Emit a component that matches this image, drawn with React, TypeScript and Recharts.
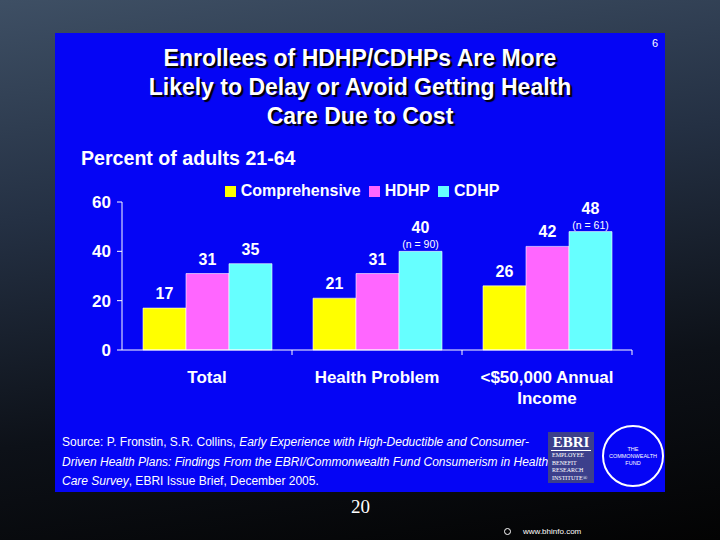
import { Bar, BarChart, LabelList, XAxis, YAxis } from 'recharts'

const categories = ['Total', 'Health Problem', '<$50,000 Annual\nIncome']
const comprehensive = [17, 21, 26]
const hdhp = [31, 31, 42]
const cdhp = [35, 40, 48]
const cdhpN = ['', '(n = 90)', '(n = 61)']
const yTicks = [0, 20, 40, 60]

const SERIES = [
  { key: 'comprehensive', name: 'Comprehensive', color: '#ffff00' },
  { key: 'hdhp', name: 'HDHP', color: '#ff66ff' },
  { key: 'cdhp', name: 'CDHP', color: '#66ffff' },
]

const data = categories.map((c, i) => ({
  category: c,
  comprehensive: comprehensive[i],
  hdhp: hdhp[i],
  cdhp: cdhp[i],
}))

const FONT = '"Liberation Sans", Arial, sans-serif'
const PANEL = '#0505f5'
// plot box: x 122..632, y 202..350
const PLOT_LEFT = 122
const PLOT_RIGHT = 632
const BAND = (PLOT_RIGHT - PLOT_LEFT) / categories.length

function CategoryTick(props: any) {
  const { x, y, payload, index } = props
  const lines = String(payload.value).split('\n')
  return (
    <g>
      {index > 0 && <line x1={x - BAND / 2} x2={x - BAND / 2} y1={y - 8} y2={y - 3} stroke="#fff" />}
      {index === categories.length - 1 && (
        <line x1={x + BAND / 2} x2={x + BAND / 2} y1={y - 8} y2={y - 3} stroke="#fff" />
      )}
      {lines.map((l, i) => (
        <text key={i} x={x} y={y + 25 + i * 21} textAnchor="middle" fill="#fff" fontSize={17} fontWeight="bold" fontFamily={FONT}>
          {l}
        </text>
      ))}
    </g>
  )
}

function ValueLabel(props: any) {
  const { x, y, width, value, index, withN } = props
  const n = withN ? cdhpN[index] : ''
  const cx = x + width / 2
  return (
    <g>
      {n && (
        <text x={cx} y={y - 3} textAnchor="middle" fill="#fff" fontSize={10.5} fontFamily={FONT}>
          {n}
        </text>
      )}
      <text x={cx} y={y - (n ? 18 : 9)} textAnchor="middle" fill="#fff" fontSize={16} fontWeight="bold" fontFamily={FONT}>
        {value}
      </text>
    </g>
  )
}

function LegendRow() {
  return (
    <div style={{ display: 'flex', justifyContent: 'center', gap: 8, fontWeight: 'bold', fontSize: 16, color: '#fff', paddingLeft: 4 }}>
      {SERIES.map((s) => (
        <span key={s.key} style={{ display: 'flex', alignItems: 'center' }}>
          <span style={{ width: 11, height: 11, background: s.color, marginRight: 5, display: 'inline-block' }} />
          {s.name}
        </span>
      ))}
    </div>
  )
}

const abs = (style: React.CSSProperties): React.CSSProperties => ({ position: 'absolute', ...style })

export default function App() {
  return (
    <div
      style={{
        position: 'fixed',
        left: 0,
        top: 0,
        width: 720,
        height: 540,
        overflow: 'hidden',
        background: 'linear-gradient(172deg, #3e4f64 0%, #243043 35%, #0d1118 70%, #030303 100%)',
        fontFamily: FONT,
      }}
    >
      <div style={abs({ left: 55, top: 33, width: 610, height: 459, background: PANEL })} />

      <div
        style={abs({
          left: 55,
          top: 44,
          width: 610,
          textAlign: 'center',
          color: '#fff',
          fontWeight: 'bold',
          fontSize: 23,
          lineHeight: '29px',
          textShadow: '2px 2px 1px #000',
        })}
      >
        Enrollees of HDHP/CDHPs Are More
        <br />
        Likely to Delay or Avoid Getting Health
        <br />
        Care Due to Cost
      </div>
      <div style={abs({ left: 652, top: 37, color: '#fff', fontSize: 11 })}>6</div>
      <div style={abs({ left: 81, top: 147, color: '#fff', fontWeight: 'bold', fontSize: 19.6 })}>Percent of adults 21-64</div>
      <div style={abs({ left: 0, top: 182, width: 720 })}>
        <LegendRow />
      </div>

      <div style={abs({ left: 0, top: 0 })}>
        <BarChart
          width={720}
          height={540}
          data={data}
          margin={{ top: 202, right: 720 - PLOT_RIGHT, bottom: 140, left: 0 }}
          barCategoryGap={21}
          barGap={0}
        >
          <XAxis
            dataKey="category"
            axisLine={{ stroke: '#fff' }}
            tickLine={false}
            tick={<CategoryTick />}
            interval={0}
            height={50}
          />
          <YAxis
            domain={[0, 60]}
            ticks={yTicks}
            width={PLOT_LEFT}
            axisLine={{ stroke: '#fff' }}
            tickLine={{ stroke: '#fff' }}
            tickSize={5}
            tickMargin={6}
            tick={{ fill: '#fff', fontSize: 17, fontWeight: 'bold', fontFamily: FONT }}
          />
          {SERIES.map((s) => (
            <Bar key={s.key} dataKey={s.key} name={s.name} fill={s.color} stroke="#ffffff" strokeWidth={0.6} isAnimationActive={false}>
              <LabelList dataKey={s.key} content={<ValueLabel withN={s.key === 'cdhp'} />} />
            </Bar>
          ))}
        </BarChart>
      </div>

      <div style={abs({ left: 62, top: 433, color: '#fff', fontSize: 12, lineHeight: '19.5px', whiteSpace: 'nowrap' })}>
        Source: P. Fronstin, S.R. Collins, <i>Early Experience with High-Deductible and Consumer-</i>
        <br />
        <i>Driven Health Plans: Findings From the EBRI/Commonwealth Fund Consumerism in Health</i>
        <br />
        <i>Care Survey</i>, EBRI Issue Brief, December 2005.
      </div>

      <div
        style={abs({
          left: 548,
          top: 432,
          width: 46,
          height: 51,
          background: '#3c3f8c',
          color: '#fff',
          fontFamily: '"Liberation Serif", serif',
          textAlign: 'center',
        })}
      >
        <div style={{ fontSize: 15, fontWeight: 'bold', lineHeight: '15px', marginTop: 3, borderBottom: '1px solid #fff', marginLeft: 3, marginRight: 3 }}>EBRI</div>
        <div style={{ fontSize: 6, lineHeight: '7.5px', textAlign: 'left', paddingLeft: 4, marginTop: 1 }}>
          EMPLOYEE
          <br />
          BENEFIT
          <br />
          RESEARCH
          <br />
          INSTITUTE®
        </div>
      </div>
      <div
        style={abs({
          left: 602,
          top: 425,
          width: 62,
          height: 62,
          borderRadius: '50%',
          border: '2px solid #fff',
          boxSizing: 'border-box',
          color: '#fff',
          fontSize: 5.5,
          lineHeight: '7px',
          textAlign: 'center',
          display: 'flex',
          alignItems: 'center',
          justifyContent: 'center',
        })}
      >
        <div>
          THE
          <br />
          COMMONWEALTH
          <br />
          FUND
        </div>
      </div>

      <div style={abs({ left: 351, top: 496, color: '#fff', fontFamily: '"Liberation Serif", serif', fontSize: 19 })}>20</div>
      <div style={abs({ left: 504, top: 527, color: '#fff', fontSize: 8, display: 'flex', alignItems: 'center' })}>
        <span style={{ display: 'inline-block', width: 5, height: 5, borderRadius: '50%', border: '1.5px solid #fff', marginRight: 12 }} />
        www.bhinfo.com
      </div>
    </div>
  )
}
